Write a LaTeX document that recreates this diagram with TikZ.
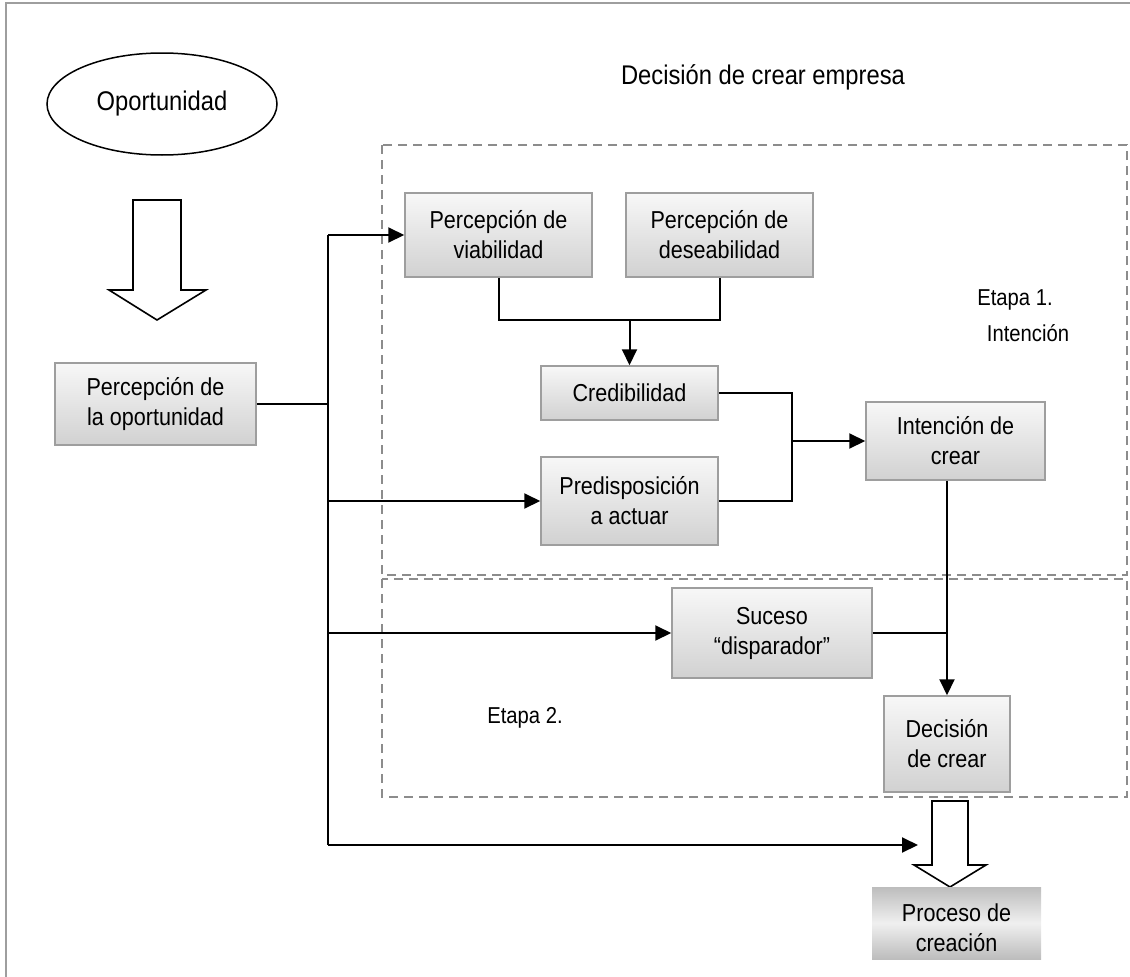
\documentclass[tikz,border=0pt]{standalone}
\usepackage{fontspec}
\setmainfont{Liberation Sans}[FakeStretch=0.88]
\usetikzlibrary{arrows.meta,shapes.geometric}
\begin{document}
\begin{tikzpicture}[x=1pt,y=-1pt,
  txt/.style={font=\fontsize{24.5}{30}\selectfont, align=center, inner sep=0},
  bigtxt/.style={font=\fontsize{27}{32}\selectfont, align=center, inner sep=0},
  smalltxt/.style={font=\fontsize{23}{30}\selectfont, align=center, inner sep=0},
  box/.style={txt, draw=black!38, line width=1.5pt, top color=white!97!black, bottom color=white!82!black, rectangle},
  line/.style={draw=black, line width=2pt},
  arr/.style={line, -{Triangle[length=16pt,width=15pt]}},
  hollow/.style={draw=black, line width=1.6pt, fill=white, line join=miter},
  dashbox/.style={draw=black!45, line width=1.5pt, dash pattern=on 9pt off 6pt},
  frame/.style={draw=black!38, line width=2pt}]
\useasboundingbox (0,0) rectangle (1130,977);
% frame
\draw[frame] (6,977) -- (6,3) -- (1130,3);
% dashed stage boxes
\draw[dashbox] (382,145) rectangle (1127,575);
\draw[dashbox] (382,579) rectangle (1127,797);
% ellipse
\node[draw=black, line width=1.5pt, ellipse, minimum width=230, minimum height=102, bigtxt] (op) at (162,104) {Oportunidad};
% hollow arrow 1
\coordinate (ha1) at (157,200);
\draw[hollow] (ha1) ++(-24,0) -- ++(48,0) -- ++(0,90) -- ++(25,0) -- (157,320) -- (109,290) -- ++(24,0) -- cycle;
% boxes
\node[box, minimum width=201, minimum height=82] (po) at (155.5,404) {Percepción de\\la oportunidad};
\node[box, minimum width=187, minimum height=84] (viab) at (498.5,235) {Percepción de\\viabilidad};
\node[box, minimum width=187, minimum height=84] (des) at (719.5,235) {Percepción de\\deseabilidad};
\node[box, minimum width=177, minimum height=54] (cred) at (629.5,393) {Credibilidad};
\node[box, minimum width=177, minimum height=88] (pred) at (629.5,501) {Predisposición\\a actuar};
\node[box, minimum width=179, minimum height=78] (int) at (955.5,441) {Intención de\\crear};
\node[box, minimum width=200, minimum height=90] (suc) at (772,633) {Suceso\\“disparador”};
\node[box, minimum width=126, minimum height=96] (dec) at (947,744) {Decisión\\de crear};
% labels
\node[bigtxt] (title) at (763,77) {Decisión de crear empresa};
\node[smalltxt] (e1a) at (1015,300) {Etapa 1.};
\node[smalltxt] (e1b) at (1028,333) {Intención};
\node[smalltxt] (e2) at (525,718) {Etapa 2.};
% trunk
\coordinate (ttop) at (328,235);
\coordinate (tbot) at (328,845);
\draw[line] (ttop) -- (tbot);
\draw[line] (po.east) -- (po.east -| ttop);
\draw[arr] (ttop) -- (viab.west);
\draw[arr] (pred.west -| ttop) -- (pred.west);
\draw[arr] (suc.west -| ttop) -- (suc.west);
% merge viab/des
\coordinate (j1) at (629.5,320);
\draw[line] (viab.south) |- (j1) -| (des.south);
\draw[arr] (j1) -- (cred.north);
% merge cred/pred
\coordinate (j2) at (792,441);
\draw[line] (cred.east) -| (pred.east -| j2) -- (pred.east);
\draw[arr] (j2) -- (int.west);
% to decision
\draw[arr] (int.south -| dec.north) -- (dec.north);
\draw[line] (suc.east) -- (suc.east -| dec.north);
% hollow arrow 2
\coordinate (ha2) at (950,801);
\draw[hollow] (ha2) ++(-18,0) -- ++(36,0) -- ++(0,64) -- ++(18,0) -- (950,887) -- (914,865) -- ++(18,0) -- cycle;
\draw[arr] (tbot) -- (918,845);
% final box
\shade[top color=black!26, bottom color=black!26, middle color=black!6] (872,887) rectangle (1041,959);
\begin{scope}
\clip (872,887) rectangle (1041,953);
\node[txt, anchor=north] (proc) at (956.5,904) {Proceso de\\creación};
\end{scope}
\end{tikzpicture}
\end{document}
